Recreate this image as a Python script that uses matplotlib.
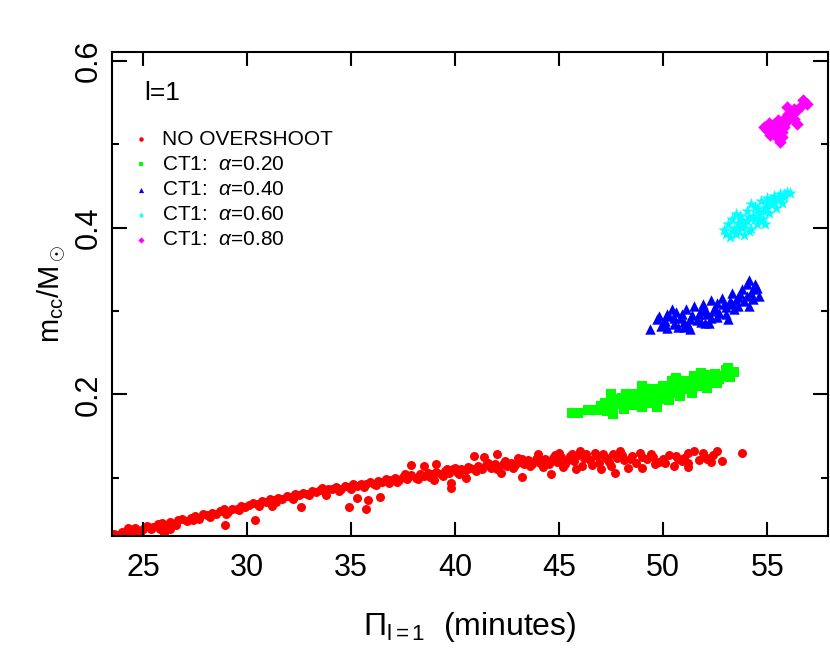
import numpy as np
import matplotlib
matplotlib.use('Agg')
import matplotlib.pyplot as plt
from matplotlib.ticker import MultipleLocator

plt.rcParams['font.family'] = ['Liberation Sans', 'DejaVu Sans']
plt.rcParams['mathtext.fontset'] = 'custom'
plt.rcParams['mathtext.rm'] = 'Liberation Sans'
plt.rcParams['mathtext.it'] = 'Liberation Sans:italic'

# period spacing (minutes) vs convective core mass
no_overshoot = [
    (23.6, 0.033), (23.8, 0.031), (24.0, 0.035), (24.3, 0.036), (24.5, 0.034), (24.7, 0.037),
    (25.0, 0.039), (25.2, 0.042), (25.5, 0.041), (25.7, 0.044), (25.9, 0.046), (26.1, 0.043),
    (26.3, 0.047), (26.5, 0.045), (26.7, 0.049), (26.9, 0.051), (27.1, 0.048), (27.3, 0.052),
    (27.5, 0.054), (27.7, 0.051), (27.9, 0.056), (28.1, 0.055), (28.3, 0.058), (28.5, 0.057),
    (28.7, 0.060), (28.9, 0.062), (29.1, 0.059), (29.3, 0.063), (29.5, 0.062), (29.7, 0.066),
    (29.9, 0.065), (26.0, 0.034), (26.3, 0.038), (28.95, 0.043), (30.4, 0.049), (24.3, 0.040),
    (25.8, 0.038), (24.6, 0.040), (27.4, 0.049), (28.2, 0.053), (29.0, 0.057), (29.6, 0.061),
    (25.4, 0.038), (26.6, 0.043), (24.9, 0.036),
    (30.1, 0.067), (30.3, 0.070), (30.5, 0.069), (30.7, 0.072), (30.9, 0.071), (31.1, 0.074),
    (31.3, 0.073), (31.5, 0.076), (31.7, 0.075), (31.9, 0.078), (32.1, 0.077), (32.3, 0.080),
    (32.5, 0.079), (32.7, 0.082), (32.9, 0.081), (33.1, 0.084), (33.3, 0.083), (33.5, 0.085),
    (33.7, 0.084), (33.9, 0.087), (34.1, 0.086), (34.3, 0.089), (34.5, 0.087), (34.7, 0.090),
    (34.9, 0.089), (35.1, 0.092), (35.3, 0.090), (35.5, 0.093), (35.7, 0.092), (35.9, 0.095),
    (36.1, 0.093), (36.3, 0.096), (36.5, 0.095), (36.7, 0.098), (36.9, 0.097),
    (32.6, 0.065), (34.9, 0.065), (35.7, 0.062), (35.3, 0.076), (35.8, 0.073), (36.4, 0.077),
    (31.2, 0.066), (33.8, 0.079), (30.6, 0.066), (31.4, 0.071), (32.2, 0.075), (33.0, 0.079),
    (33.6, 0.088), (34.4, 0.084), (35.0, 0.087), (35.6, 0.089), (36.2, 0.091), (36.8, 0.094),
    (37.1, 0.100), (37.3, 0.097), (37.5, 0.101), (37.7, 0.099), (37.9, 0.103), (38.1, 0.100),
    (38.3, 0.104), (38.5, 0.102), (38.7, 0.106), (38.9, 0.104), (39.1, 0.107), (39.3, 0.104),
    (39.5, 0.108), (39.7, 0.106), (39.9, 0.110), (40.1, 0.107), (40.3, 0.111), (40.5, 0.109),
    (40.7, 0.112), (40.9, 0.110), (41.1, 0.114), (41.3, 0.111), (41.5, 0.115), (41.7, 0.112),
    (41.9, 0.116), (42.1, 0.113), (42.3, 0.117), (42.5, 0.114), (42.7, 0.118), (42.9, 0.115),
    (43.1, 0.119), (43.3, 0.116), (43.5, 0.121), (43.7, 0.117), (43.9, 0.122), (44.1, 0.118),
    (44.3, 0.123), (44.5, 0.116), (44.7, 0.124), (44.9, 0.119), (45.1, 0.125), (45.3, 0.117),
    (45.5, 0.126), (45.7, 0.120), (45.9, 0.127), (46.1, 0.114), (46.3, 0.128), (46.5, 0.121),
    (46.7, 0.130), (46.9, 0.118), (45.2, 0.113), (45.8, 0.110), (44.0, 0.128), (46.0, 0.132),
    (45.0, 0.130), (43.0, 0.124), (37.2, 0.095), (37.6, 0.104), (38.2, 0.098), (38.8, 0.101),
    (39.4, 0.102), (39.6, 0.111), (40.0, 0.112), (40.2, 0.104), (40.6, 0.113), (41.0, 0.108),
    (41.6, 0.118), (42.0, 0.110), (42.4, 0.120), (42.8, 0.112), (43.2, 0.122), (43.6, 0.114),
    (44.0, 0.124), (44.2, 0.113), (44.8, 0.127), (45.4, 0.121), (45.6, 0.129), (46.2, 0.124),
    (46.6, 0.115), (46.8, 0.126),
    (37.9, 0.115), (38.5, 0.114), (39.1, 0.116), (40.9, 0.126), (41.4, 0.125), (42.0, 0.128),
    (39.8, 0.088), (39.8, 0.094), (43.2, 0.101), (44.6, 0.104), (39.0, 0.097), (40.5, 0.100),
    (42.2, 0.106),
    (47.2, 0.125), (47.4, 0.119), (47.6, 0.128), (47.7, 0.106), (47.9, 0.132), (48.1, 0.121),
    (48.3, 0.112), (48.5, 0.126), (48.7, 0.118), (48.9, 0.130), (48.97, 0.112), (49.2, 0.122),
    (49.5, 0.125), (49.8, 0.119), (50.0, 0.123), (50.3, 0.127), (50.5, 0.114), (50.7, 0.122),
    (50.9, 0.120), (51.2, 0.130), (51.2, 0.113), (51.2, 0.118), (51.5, 0.132), (51.7, 0.121),
    (51.9, 0.130), (52.1, 0.122), (52.3, 0.119), (52.6, 0.132), (52.8, 0.120), (53.8, 0.130),
    (47.0, 0.110), (47.5, 0.114), (48.0, 0.127), (49.0, 0.125), (49.6, 0.116), (50.1, 0.118),
    (52.0, 0.125), (52.4, 0.127), (47.1, 0.129), (47.3, 0.122), (47.8, 0.124), (48.4, 0.123),
    (49.4, 0.128), (50.6, 0.126), (51.0, 0.124),
]

ct1_a020 = [
    (45.6, 0.178), (45.9, 0.178), (46.4, 0.181), (46.8, 0.181), (47.0, 0.186), (47.2, 0.190),
    (47.4, 0.184), (47.6, 0.177), (47.6, 0.194), (47.8, 0.188), (48.0, 0.196), (48.1, 0.183),
    (48.3, 0.192), (48.5, 0.200), (48.6, 0.187), (48.8, 0.195), (49.0, 0.205), (49.0, 0.185),
    (49.2, 0.198), (49.4, 0.190), (49.5, 0.207), (49.6, 0.202), (49.8, 0.194), (50.0, 0.210),
    (50.0, 0.199), (50.2, 0.205), (50.3, 0.193), (50.5, 0.212), (50.6, 0.203), (50.8, 0.209),
    (50.8, 0.198), (51.0, 0.216), (51.1, 0.206), (51.3, 0.212), (51.4, 0.202), (51.6, 0.219),
    (51.7, 0.210), (51.9, 0.215), (52.0, 0.223), (52.1, 0.208), (52.3, 0.219), (52.5, 0.224),
    (52.6, 0.214), (52.8, 0.222), (53.0, 0.225), (53.1, 0.232), (53.2, 0.221), (53.4, 0.227),
    (48.2, 0.200), (49.3, 0.207), (47.3, 0.180), (50.4, 0.216), (51.5, 0.222), (49.7, 0.185),
    (47.5, 0.200), (49.0, 0.210), (50.6, 0.220), (51.8, 0.226), (47.9, 0.193), (48.4, 0.195),
    (48.9, 0.200), (49.3, 0.200), (49.9, 0.204), (50.1, 0.208), (50.5, 0.206), (50.9, 0.212),
    (51.2, 0.209), (51.6, 0.214), (52.2, 0.216), (52.7, 0.219), (49.1, 0.192), (48.7, 0.190),
    (50.7, 0.202), (51.9, 0.220), (52.4, 0.222), (53.0, 0.229), (47.0, 0.182),
]

ct1_a040 = [
    (49.35, 0.278), (49.7, 0.290), (49.9, 0.282), (50.1, 0.288), (50.2, 0.280), (50.3, 0.294),
    (50.5, 0.285), (50.6, 0.299), (50.7, 0.281), (50.8, 0.292), (51.0, 0.287), (51.1, 0.302),
    (51.2, 0.283), (51.4, 0.295), (51.5, 0.306), (51.6, 0.289), (51.8, 0.300), (51.9, 0.309),
    (52.0, 0.286), (52.1, 0.296), (52.3, 0.313), (52.3, 0.292), (52.5, 0.304), (52.7, 0.298),
    (52.8, 0.316), (52.9, 0.308), (53.0, 0.296), (53.2, 0.312), (53.3, 0.322), (53.4, 0.302),
    (53.6, 0.317), (53.6, 0.306), (53.8, 0.327), (53.9, 0.312), (54.0, 0.332), (54.1, 0.306),
    (54.1, 0.337), (54.2, 0.322), (54.3, 0.314), (54.5, 0.328), (54.6, 0.318), (50.4, 0.302),
    (51.3, 0.278), (52.2, 0.286), (53.1, 0.291), (50.0, 0.284), (50.5, 0.292), (50.9, 0.296),
    (51.3, 0.291), (51.7, 0.296), (52.0, 0.303), (52.4, 0.300), (52.6, 0.310), (53.0, 0.305),
    (53.3, 0.309), (53.5, 0.313), (53.7, 0.320), (54.0, 0.318), (54.3, 0.326), (54.4, 0.333),
    (51.0, 0.281), (51.8, 0.287), (52.6, 0.293), (49.8, 0.294), (50.2, 0.297),
]

ct1_a060 = [
    (52.9, 0.397), (53.0, 0.392), (53.1, 0.404), (53.2, 0.389), (53.3, 0.410), (53.4, 0.398),
    (53.5, 0.392), (53.6, 0.406), (53.7, 0.414), (53.8, 0.400), (53.9, 0.391), (54.0, 0.420),
    (54.0, 0.408), (54.2, 0.398), (54.3, 0.414), (54.4, 0.425), (54.5, 0.405), (54.6, 0.418),
    (54.7, 0.432), (54.8, 0.410), (54.9, 0.424), (55.0, 0.436), (55.1, 0.418), (55.2, 0.428),
    (55.3, 0.438), (55.4, 0.424), (55.5, 0.433), (55.6, 0.441), (55.7, 0.430), (55.8, 0.437),
    (55.95, 0.443), (56.1, 0.442), (53.5, 0.416), (54.2, 0.428), (54.9, 0.404), (53.3, 0.396),
    (53.6, 0.399), (53.9, 0.404), (54.1, 0.413), (54.4, 0.410), (54.6, 0.411), (54.8, 0.420),
    (55.0, 0.428), (55.2, 0.433), (55.5, 0.437), (55.8, 0.441), (53.8, 0.409), (54.5, 0.422),
    (55.3, 0.430), (54.1, 0.396),
]

ct1_a080 = [
    (54.83, 0.521), (55.15, 0.511), (55.6, 0.503), (55.5, 0.529), (55.95, 0.545), (56.45, 0.541),
    (56.7, 0.553), (56.9, 0.549), (56.45, 0.525), (56.1, 0.533), (55.8, 0.521), (55.3, 0.525),
    (55.0, 0.517), (55.5, 0.508), (55.2, 0.520), (55.7, 0.515), (56.2, 0.538), (56.6, 0.546),
    (55.9, 0.527), (55.4, 0.517), (55.6, 0.522), (55.8, 0.531), (56.0, 0.537), (56.3, 0.543),
    (55.3, 0.513), (55.7, 0.509), (56.3, 0.531), (55.1, 0.526),
]

series = [
    (no_overshoot, 'NO OVERSHOOT', '#ff0000', 'o', 42),
    (ct1_a020, r'CT1:  $\it{\alpha}$=0.20', '#00ff00', 's', 42),
    (ct1_a040, r'CT1:  $\it{\alpha}$=0.40', '#0000ff', '^', 56),
    (ct1_a060, r'CT1:  $\it{\alpha}$=0.60', '#00ffff', '*', 90),
    (ct1_a080, r'CT1:  $\it{\alpha}$=0.80', '#ff00ff', 'D', 40),
]

fig = plt.figure(figsize=(8.3, 6.48), dpi=100)
ax = fig.add_axes([0.1346, 0.1728, 0.8626, 0.747])

handles = []
for pts, label, color, marker, size in series:
    arr = np.array(pts).T
    h = ax.scatter(arr[0], arr[1], s=size, c=color, marker=marker, linewidths=0, label=label)
    handles.append(h)

ax.set_xlim(23.5, 57.9)
ax.set_ylim(0.03, 0.611)
ax.xaxis.set_major_locator(MultipleLocator(5))
ax.yaxis.set_major_locator(MultipleLocator(0.2))
ax.yaxis.set_minor_locator(MultipleLocator(0.1))
ax.yaxis.set_major_formatter(plt.FuncFormatter(lambda v, p: '%.1f' % v))

for s in ax.spines.values():
    s.set_linewidth(1.5)
ax.tick_params(which='both', direction='in', top=True, right=True, width=1.5, colors='black')
ax.tick_params(axis='x', which='major', length=10, labelsize=22, pad=12)
ax.tick_params(axis='y', which='major', length=11, labelsize=22, pad=6)
ax.tick_params(axis='y', which='minor', length=5)
for lab in ax.get_yticklabels():
    lab.set_rotation(90)
    lab.set_va('center')

ax.set_xlabel(u'\u03a0$_{\\rm l=1}$  (minutes)', fontsize=23, labelpad=20)
ax.set_ylabel(r'm$_{\rm cc}$/M$_\odot$', fontsize=21, labelpad=4)

ax.text(0.046, 0.915, 'l=1', transform=ax.transAxes, fontsize=19, va='center', ha='left')
leg = ax.legend(handles=handles, loc='upper left', bbox_to_anchor=(0.032, 0.839),
                frameon=False, fontsize=15, markerscale=0.5, handlelength=0.6,
                handletextpad=0.7, labelspacing=0.29, borderpad=0.0, borderaxespad=0.0)

plt.savefig('out.png', dpi=100)
